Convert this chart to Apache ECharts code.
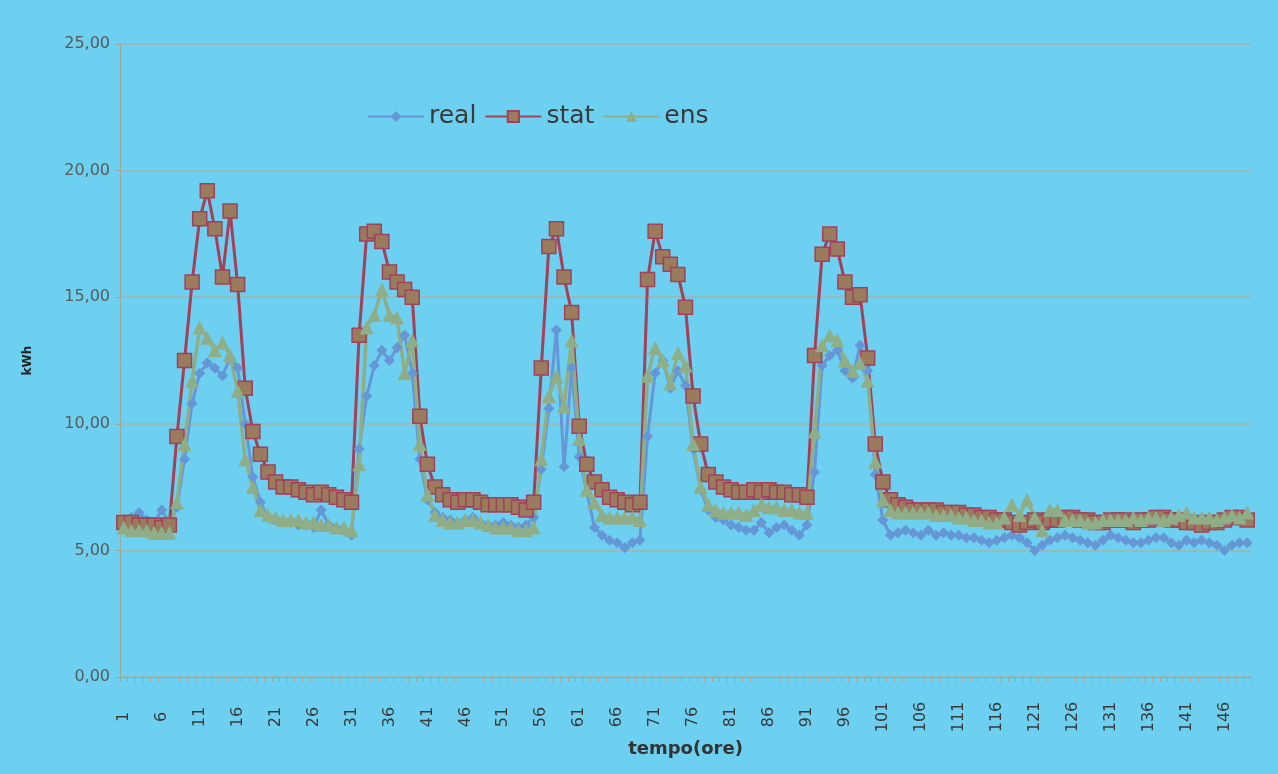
<!DOCTYPE html>
<html>
<head>
<meta charset="utf-8">
<script src="https://cdn.jsdelivr.net/npm/echarts@6/dist/echarts.min.js"></script>
<style>
  html, body { margin: 0; padding: 0; background: #6dd0f0; }
  #chart { width: 1278px; height: 774px; }
</style>
</head>
<body>
<div id="chart"></div>
<script>
// ore 1..149
var hours = [];
for (var h = 1; h <= 149; h++) hours.push(String(h));

var real = [
  6.1, 6.3, 6.5, 6.2, 6.1, 6.6, 6.1, 6.7, 8.6, 10.8,
  12.0, 12.4, 12.2, 11.9, 12.6, 12.2, 10.0, 7.9, 6.9, 6.3,
  6.2, 6.1, 6.1, 6.0, 6.0, 5.9, 6.6, 6.0, 5.9, 5.8,
  5.6, 9.0, 11.1, 12.3, 12.9, 12.5, 13.0, 13.5, 12.0, 8.6,
  7.0, 6.5, 6.3, 6.2, 6.1, 6.2, 6.3, 6.1, 6.0, 6.0,
  6.1, 6.0, 5.9, 6.0, 6.3, 8.2, 10.6, 13.7, 8.3, 12.2,
  8.7, 7.3, 5.9, 5.6, 5.4, 5.3, 5.1, 5.3, 5.4, 9.5,
  12.0, 12.5, 11.4, 12.1, 11.5, 9.0, 7.4, 6.6, 6.3, 6.2,
  6.0, 5.9, 5.8, 5.8, 6.1, 5.7, 5.9, 6.0, 5.8, 5.6,
  6.0, 8.1, 12.3, 12.7, 12.9, 12.1, 11.8, 13.1, 12.1, 8.0,
  6.2, 5.6, 5.7, 5.8, 5.7, 5.6, 5.8, 5.6, 5.7, 5.6,
  5.6, 5.5, 5.5, 5.4, 5.3, 5.4, 5.5, 5.6, 5.5, 5.3,
  5.0, 5.2, 5.4, 5.5, 5.6, 5.5, 5.4, 5.3, 5.2, 5.4,
  5.6, 5.5, 5.4, 5.3, 5.3, 5.4, 5.5, 5.5, 5.3, 5.2,
  5.4, 5.3, 5.4, 5.3, 5.2, 5.0, 5.2, 5.3, 5.3
];

var stat = [
  6.1, 6.1, 6.0, 6.0, 6.0, 5.9, 6.0, 9.5, 12.5, 15.6,
  18.1, 19.2, 17.7, 15.8, 18.4, 15.5, 11.4, 9.7, 8.8, 8.1,
  7.7, 7.5, 7.5, 7.4, 7.3, 7.2, 7.3, 7.2, 7.1, 7.0,
  6.9, 13.5, 17.5, 17.6, 17.2, 16.0, 15.6, 15.3, 15.0, 10.3,
  8.4, 7.5, 7.2, 7.0, 6.9, 7.0, 7.0, 6.9, 6.8, 6.8,
  6.8, 6.8, 6.7, 6.6, 6.9, 12.2, 17.0, 17.7, 15.8, 14.4,
  9.9, 8.4, 7.7, 7.4, 7.1, 7.0, 6.9, 6.8, 6.9, 15.7,
  17.6, 16.6, 16.3, 15.9, 14.6, 11.1, 9.2, 8.0, 7.7, 7.5,
  7.4, 7.3, 7.3, 7.4, 7.3, 7.4, 7.3, 7.3, 7.2, 7.2,
  7.1, 12.7, 16.7, 17.5, 16.9, 15.6, 15.0, 15.1, 12.6, 9.2,
  7.7, 7.0, 6.8, 6.7, 6.6, 6.6, 6.6, 6.6, 6.5, 6.5,
  6.5, 6.4, 6.4, 6.3, 6.3, 6.2, 6.2, 6.1, 6.0, 6.1,
  6.2, 6.1, 6.2, 6.2, 6.3, 6.3, 6.2, 6.2, 6.1, 6.1,
  6.2, 6.2, 6.2, 6.1, 6.2, 6.2, 6.3, 6.3, 6.2, 6.2,
  6.1, 6.1, 6.0, 6.1, 6.1, 6.2, 6.3, 6.3, 6.2
];

var ens = [
  5.9, 5.8, 5.8, 5.8, 5.7, 5.7, 5.7, 6.9, 9.2, 11.7,
  13.8, 13.4, 12.9, 13.2, 12.7, 11.3, 8.6, 7.5, 6.6, 6.4,
  6.3, 6.2, 6.2, 6.2, 6.1, 6.1, 6.0, 6.0, 5.9, 5.9,
  5.8, 8.4, 13.8, 14.3, 15.3, 14.3, 14.2, 12.0, 13.3, 9.2,
  7.2, 6.4, 6.2, 6.1, 6.1, 6.2, 6.2, 6.1, 6.0, 5.9,
  5.9, 5.9, 5.8, 5.8, 5.9, 8.6, 11.1, 11.9, 10.7, 13.3,
  9.4, 7.4, 6.9, 6.4, 6.3, 6.3, 6.3, 6.3, 6.2, 11.9,
  13.0, 12.5, 11.6, 12.8, 12.3, 9.2, 7.5, 6.8, 6.6, 6.5,
  6.5, 6.5, 6.4, 6.6, 6.8, 6.7, 6.7, 6.6, 6.6, 6.5,
  6.5, 9.7, 13.1, 13.5, 13.3, 12.5, 12.1, 12.4, 11.7, 8.5,
  7.0, 6.6, 6.5, 6.5, 6.5, 6.5, 6.5, 6.4, 6.4, 6.4,
  6.3, 6.3, 6.2, 6.2, 6.1, 6.1, 6.3, 6.8, 6.4, 7.0,
  6.3, 5.8, 6.6, 6.6, 6.2, 6.2, 6.2, 6.1, 6.1, 6.2,
  6.2, 6.2, 6.2, 6.3, 6.2, 6.3, 6.3, 6.2, 6.3, 6.4,
  6.5, 6.3, 6.3, 6.3, 6.2, 6.3, 6.4, 6.3, 6.5
];

var myChart = echarts.init(document.getElementById('chart'));
myChart.setOption({
  backgroundColor: '#6dd0f0',
  animation: false,
  textStyle: { fontFamily: 'DejaVu Sans' },
  legend: {
    left: 362,
    top: 99,
    itemWidth: 56,
    itemHeight: 14,
    itemGap: 8,
    textStyle: { fontSize: 25, color: '#3a3a3a', fontFamily: 'DejaVu Sans' },
    data: ['real', 'stat', 'ens']
  },
  grid: {
    left: 120,
    right: 27,
    top: 44,
    bottom: 97
  },
  xAxis: {
    type: 'category',
    data: hours,
    boundaryGap: true,
    name: 'tempo(ore)',
    nameLocation: 'middle',
    nameGap: 62,
    nameTextStyle: { fontSize: 18, fontWeight: 'bold', color: '#333', fontFamily: 'DejaVu Sans' },
    axisLine: { lineStyle: { color: '#9aa79a', width: 1 } },
    axisTick: { show: true, interval: 0, length: 5, lineStyle: { color: '#9aa79a' } },
    axisLabel: {
      interval: 4,
      rotate: 90,
      align: 'center',
      verticalAlign: 'middle',
      margin: 40,
      fontSize: 16,
      color: '#3a3a3a',
      fontFamily: 'DejaVu Sans'
    },
    splitLine: { show: false }
  },
  yAxis: {
    type: 'value',
    min: 0,
    max: 25,
    interval: 5,
    name: 'kWh',
    nameLocation: 'middle',
    nameGap: 86,
    nameRotate: 90,
    nameTextStyle: { fontSize: 12, fontWeight: 'bold', color: '#222', fontFamily: 'DejaVu Sans' },
    axisLine: { show: true, lineStyle: { color: '#9aa79a' } },
    axisTick: { show: true, length: 5, lineStyle: { color: '#9aa79a' } },
    axisLabel: {
      fontSize: 16,
      color: '#5a5a5a',
      margin: 10,
      fontFamily: 'DejaVu Sans',
      formatter: function (v) { return v.toFixed(2).replace('.', ','); }
    },
    splitLine: { lineStyle: { color: '#a3b3a8', width: 1.5 } }
  },
  series: [
    {
      name: 'real',
      type: 'line',
      data: real,
      symbol: 'diamond',
      symbolSize: 11,
      showAllSymbol: true,
      lineStyle: { color: '#6597d6', width: 3 },
      itemStyle: { color: '#6597d6' }
    },
    {
      name: 'stat',
      type: 'line',
      data: stat,
      symbol: 'rect',
      symbolSize: 14,
      showAllSymbol: true,
      lineStyle: { color: '#a3405a', width: 3 },
      itemStyle: { color: '#9a7b5e', borderColor: '#a3405a', borderWidth: 1.5 }
    },
    {
      name: 'ens',
      type: 'line',
      data: ens,
      symbol: 'triangle',
      symbolSize: 14,
      showAllSymbol: true,
      lineStyle: { color: '#8fae88', width: 3.5 },
      itemStyle: { color: '#8fae88' }
    }
  ]
});
</script>
</body>
</html>
